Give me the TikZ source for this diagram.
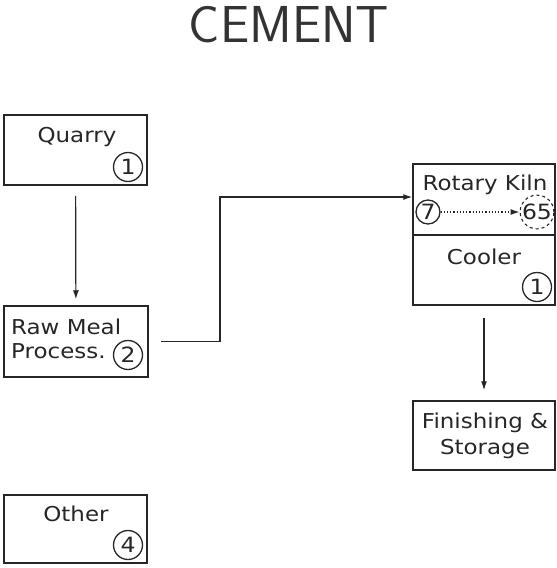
\documentclass[tikz,border=0pt]{standalone}
\usepackage{fontspec}
\setmainfont{DejaVu Sans}[FakeStretch=1.12]
\usetikzlibrary{arrows.meta}
\begin{document}
\begin{tikzpicture}[x=1pt,y=-1pt,
  every node/.style={text=black!85},
  box/.style={draw=black!85,line width=1.5pt,inner sep=0pt,rectangle},
  lbl/.style={font=\fontsize{20.5}{25}\selectfont,inner sep=0pt,align=center},
  num/.style={draw=black!85,line width=1.3pt,circle,inner sep=0pt,minimum size=29pt,font=\fontsize{21}{21}\selectfont},
  arr/.style={draw=black!85,line width=1.2pt,-{Latex[length=9pt,width=6pt]}}]
\useasboundingbox (0,0) rectangle (557,568);
% title
\node[inner sep=0pt,text=black!80,font=\sffamily\fontsize{52}{52}\selectfont] (title) at (289,25) {CEMENT};
% boxes
\node[box,minimum width=143pt,minimum height=70pt] (quarry) at (75.5,150) {};
\node[box,minimum width=144pt,minimum height=71pt] (raw) at (76,341.5) {};
\node[box,minimum width=143pt,minimum height=68pt] (other) at (75.5,529) {};
\node[box,minimum width=142pt,minimum height=71pt] (kiln) at (484,199.5) {};
\node[box,minimum width=142pt,minimum height=70pt] (cooler) at (484,270) {};
\node[box,minimum width=142pt,minimum height=69pt] (finish) at (484,435.5) {};
% labels
\node[lbl] (tq) at (77,137) {Quarry};
\node[lbl,align=left,anchor=west] (tr) at (11,339) {Raw Meal\\[-1pt]Process.};
\node[lbl] (to) at (76,514) {Other};
\node[lbl] (tk) at (485,185) {Rotary Kiln};
\node[lbl] (tc) at (484,257) {Cooler};
\node[lbl] (tf) at (485,436) {Finishing \&\\[1pt]Storage};
% numbers
\node[num] (n1) at (128,167) {1};
\node[num] (n2) at (128,355) {2};
\node[num] (n4) at (128,545) {4};
\node[num,minimum size=24pt] (n7) at (428,212) {7};
\node[num,dashed,line width=1.1pt,minimum size=28pt] (n65) at (537,212) {65};
\node[num] (nc) at (537,287) {1};
% connectors
\draw[arr,shorten <=10pt,shorten >=6pt] (quarry) -- (raw);
\coordinate (bend) at (220,197);
\draw[arr,shorten <=12pt] (raw.east) -| (bend) -- (kiln.west |- bend);
\draw[arr,dotted,line width=1.2pt] (n7) -- (n65);
\draw[arr,shorten <=12pt,shorten >=10pt] (cooler) -- (finish);
\end{tikzpicture}
\end{document}
